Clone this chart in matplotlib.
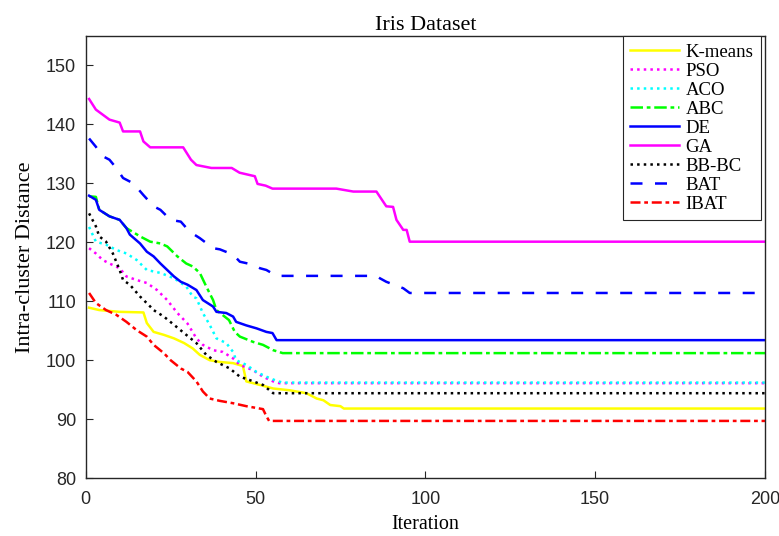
import matplotlib.pyplot as plt

# breakpoints (iteration, intra-cluster distance)
kmeans_x = [1, 4, 10, 17, 18, 20, 23, 26, 29, 31.5, 33.6, 36.5, 39.5, 43.4, 46.3, 47.3, 51.3, 55.2, 60, 65, 68, 70, 72, 75, 76, 200]
kmeans_y = [108.9, 108.5, 108.2, 108.1, 106.3, 104.8, 104.3, 103.7, 102.9, 102.0, 100.9, 100.0, 99.7, 99.5, 99.0, 96.4, 95.8, 95.2, 94.9, 94.4, 93.5, 93.2, 92.4, 92.2, 91.8, 91.8]

pso_x = [1, 3, 5, 7, 10, 12, 15, 18, 21, 24, 27, 30, 32.6, 34.5, 37.5, 40.4, 43.4, 45.4, 49.3, 52.2, 55.2, 57, 200]
pso_y = [119.0, 118.1, 117.0, 116.4, 115.6, 114.2, 113.6, 113.1, 111.9, 110.2, 108.0, 106.2, 103.7, 102.6, 101.7, 101.4, 100.3, 99.2, 98.3, 97.2, 96.4, 96.1, 96.1]

aco_x = [1, 3, 6, 9, 12, 15, 18, 22, 26, 29.6, 31.5, 32.6, 34.5, 36.5, 38.5, 41.4, 43.4, 44.3, 47.3, 50.3, 53.2, 56.2, 58, 200]
aco_y = [122.6, 120.1, 119.6, 118.7, 118.1, 117.0, 115.3, 114.8, 113.9, 112.5, 110.8, 110.5, 108.0, 106.0, 103.7, 102.9, 101.4, 100.0, 99.2, 98.0, 97.2, 96.5, 96.2, 96.2]

abc_x = [1, 3, 4, 7, 10, 12, 16, 19, 22, 24, 27, 29.6, 31.5, 33.6, 35.5, 37.5, 38.5, 42.2, 43.9, 45.4, 49.3, 52.2, 55.2, 58, 200]
abc_y = [127.8, 127.7, 125.5, 124.4, 123.8, 122.4, 121.0, 120.1, 119.8, 119.3, 117.6, 116.4, 115.9, 114.8, 112.5, 110.2, 108.5, 106.8, 104.8, 104.0, 103.1, 102.6, 101.7, 101.2, 101.2]

de_x = [1, 3, 4, 7, 10, 12, 13, 16, 18, 20, 22, 24, 26, 28, 30, 32.6, 34.5, 37.5, 38.5, 41.4, 43.4, 44.3, 47.3, 50.3, 53.2, 55, 56.2, 200]
de_y = [127.9, 127.2, 125.5, 124.4, 123.8, 122.4, 121.3, 119.8, 118.4, 117.6, 116.4, 115.3, 114.2, 113.3, 112.8, 111.9, 110.2, 109.1, 108.2, 108.0, 107.4, 106.5, 105.9, 105.4, 104.8, 104.6, 103.4, 103.4]

ga_x = [1, 3, 7, 10, 11, 16, 17, 19, 28.7, 31, 32.6, 37, 43, 45.3, 49.8, 50.6, 53, 55, 73.8, 78.8, 85.6, 88.5, 90.5, 91.5, 93.5, 94.5, 95.4, 200]
ga_y = [144.3, 142.5, 140.8, 140.3, 138.8, 138.8, 137.1, 136.1, 136.1, 134.0, 133.1, 132.6, 132.6, 131.8, 131.2, 129.9, 129.6, 129.1, 129.1, 128.6, 128.6, 126.1, 126.0, 123.8, 122.1, 122.1, 120.1, 120.1]

bbbc_x = [1, 3, 4, 6, 8, 10, 11, 13, 16, 19, 20, 23, 26, 29.6, 32.6, 35.5, 38.5, 42.4, 45.4, 48.4, 52.2, 55.2, 200]
bbbc_y = [124.9, 122.7, 121.0, 120.1, 118.1, 115.3, 113.6, 112.8, 110.8, 109.1, 108.5, 107.4, 106.0, 104.3, 102.9, 100.9, 99.7, 98.6, 97.2, 96.6, 95.8, 94.4, 94.4]

bat_x = [1, 3, 5, 7, 9, 11, 14, 17, 20, 22, 25, 28, 30.6, 33.6, 37.5, 39.5, 43.4, 45.4, 49.3, 51.3, 53.2, 56.2, 85.6, 86.6, 88.5, 93.5, 95.4, 200]
bat_y = [137.6, 136.2, 134.6, 134.0, 132.6, 130.9, 130.0, 128.0, 126.1, 125.5, 123.8, 123.5, 121.8, 120.7, 119.0, 118.8, 117.9, 116.7, 116.2, 115.6, 115.3, 114.3, 114.3, 113.9, 113.3, 112.2, 111.4, 111.4]

ibat_x = [1, 3, 6, 9, 12, 15, 18, 20, 23, 25, 28, 30, 32.6, 34.5, 36.5, 39.5, 43.4, 47.3, 52.2, 53.2, 54, 200]
ibat_y = [111.4, 109.7, 108.5, 107.7, 106.5, 105.1, 104.0, 102.6, 101.2, 100.0, 98.6, 98.0, 96.4, 94.7, 93.5, 93.1, 92.7, 92.2, 91.7, 90.5, 89.7, 89.7]

series = [
    ("K-means", kmeans_x, kmeans_y, "#FFFF00", "-"),
    ("PSO", pso_x, pso_y, "#FF00FF", ":"),
    ("ACO", aco_x, aco_y, "#00FFFF", ":"),
    ("ABC", abc_x, abc_y, "#00FF00", (0, (5, 1.5, 1.5, 1.5))),
    ("DE", de_x, de_y, "#0000FF", "-"),
    ("GA", ga_x, ga_y, "#FF00FF", "-"),
    ("BB-BC", bbbc_x, bbbc_y, "#000000", ":"),
    ("BAT", bat_x, bat_y, "#0000FF", (0, (4.8, 5))),
    ("IBAT", ibat_x, ibat_y, "#FF0000", (0, (4, 1.5, 1.5, 1.5))),
]

fig = plt.figure(figsize=(7.79, 5.36), dpi=100)
ax = fig.add_axes([0.110, 0.108, 0.872, 0.825])

for name, xs, ys, col, ls in series:
    ax.plot(xs, ys, color=col, linestyle=ls, linewidth=1.8, label=name)

ax.set_xlim(0, 200)
ax.set_ylim(80, 155)
ax.set_xticks([0, 50, 100, 150, 200])
ax.set_yticks([80, 90, 100, 110, 120, 130, 140, 150])
ax.tick_params(direction='in', length=5, labelsize=13, colors='#262626')
ax.tick_params(axis='y', pad=7)
ax.tick_params(axis='x', pad=9)
for lab in ax.get_xticklabels() + ax.get_yticklabels():
    lab.set_family('Liberation Sans')
for sp in ax.spines.values():
    sp.set_color('#262626')
    sp.set_linewidth(1.0)

ax.set_xlabel('Iteration', family='Liberation Serif', fontsize=14.5, labelpad=5)
ax.set_ylabel('Intra-cluster Distance', family='Liberation Serif', fontsize=16, labelpad=8)
ax.set_title('Iris Dataset', family='Liberation Serif', fontsize=16, pad=4)

leg = ax.legend(loc='upper right', bbox_to_anchor=(1.0 - 4 / 679, 1.0), borderaxespad=0,
                fancybox=False, edgecolor='#262626', framealpha=1,
                prop={'family': 'Liberation Serif', 'size': 13.5},
                handlelength=2.6, labelspacing=0.1, handletextpad=0.35, borderpad=0.4)
leg.get_frame().set_linewidth(0.8)

fig.savefig('out.png', dpi=100)
